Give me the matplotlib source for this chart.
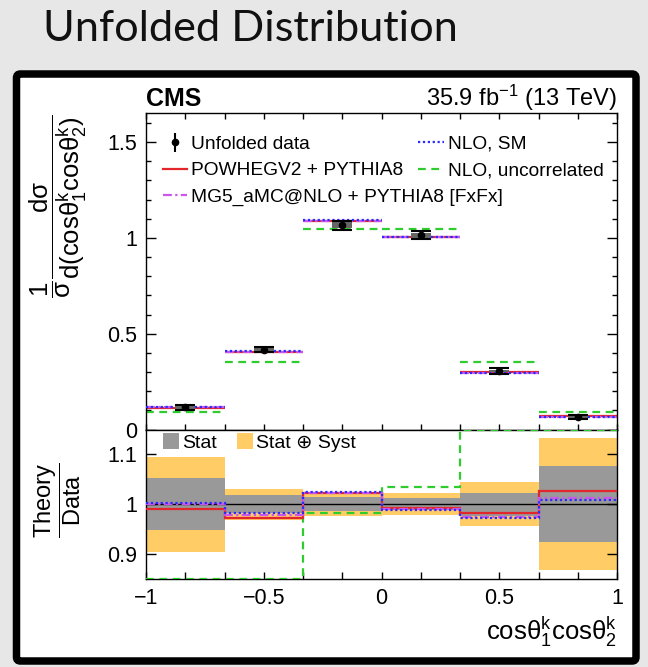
import numpy as np
import matplotlib
matplotlib.use('Agg')
import matplotlib.pyplot as plt
from matplotlib.patches import FancyBboxPatch, Patch
from matplotlib.lines import Line2D
from matplotlib.ticker import FixedLocator

plt.rcParams['font.family'] = ['Liberation Sans', 'DejaVu Sans']
plt.rcParams['mathtext.fontset'] = 'custom'
plt.rcParams['mathtext.rm'] = 'Liberation Sans'
plt.rcParams['mathtext.it'] = 'Liberation Sans:italic'
plt.rcParams['mathtext.bf'] = 'Liberation Sans:bold'
plt.rcParams['mathtext.default'] = 'regular'

# ---------------- data ----------------
bin_edges = [-1.0, -2/3, -1/3, 0.0, 1/3, 2/3, 1.0]
data_vals = [0.115, 0.416, 1.066, 1.014, 0.305, 0.066]
stat_rel = [0.052, 0.018, 0.014, 0.012, 0.023, 0.076]
tot_rel = [0.095, 0.031, 0.023, 0.022, 0.044, 0.132]

powheg_vals = [0.114, 0.405, 1.090, 1.006, 0.300, 0.068]
mg5_vals = [0.115, 0.407, 1.090, 1.004, 0.297, 0.067]
nlo_sm_vals = [0.115, 0.408, 1.092, 1.003, 0.297, 0.066]
nlo_unc_vals = [0.091, 0.352, 1.045, 1.045, 0.352, 0.091]

powheg_ratio = [0.990, 0.973, 1.023, 0.992, 0.982, 1.027]
mg5_ratio = [1.000, 0.978, 1.023, 0.990, 0.975, 1.013]
nlo_sm_ratio = [1.002, 0.982, 1.024, 0.989, 0.973, 1.008]
nlo_unc_ratio = [0.79, 0.846, 0.982, 1.034, 1.16, 1.38]

main_yticks = [0, 0.5, 1, 1.5]
main_yticklabels = ['0', '0.5', '1', '1.5']
ratio_yticks = [0.9, 1.0, 1.1]
ratio_yticklabels = ['0.9', '1', '1.1']
xticks = [-1, -0.5, 0, 0.5, 1]
xticklabels = ['\u22121', '\u22120.5', '0', '0.5', '1']

# ---------------- derived ----------------
edges = np.array(bin_edges)
centers = 0.5 * (edges[:-1] + edges[1:])
data_arr = np.array(data_vals)
stat_abs = data_arr * np.array(stat_rel)
tot_abs = data_arr * np.array(tot_rel)

W, H = 648, 667
fig = plt.figure(figsize=(W / 100, H / 100), dpi=100)
fig.patch.set_facecolor('#e7e7e7')


def fx(px):
    return px / W


def fy(py):
    return 1 - py / H


# white framed box
box = FancyBboxPatch((fx(16.5), fy(661)), fx(636) - fx(16.5), fy(74) - fy(661),
                     boxstyle='round,pad=0,rounding_size=0.006',
                     transform=fig.transFigure, facecolor='white',
                     edgecolor='black', linewidth=5.4, zorder=-5)
fig.patches.append(box)

# title
title = fig.text(fx(43), fy(40.7), 'Unfolded Distribution', family='Lato',
                 fontsize=28, ha='left', va='baseline', color='#111111')
fig.canvas.draw()
wt = title.get_window_extent().width
title.set_fontsize(28 * 415 / wt)

ax1 = fig.add_axes([fx(146), fy(429.5), fx(617) - fx(146), fy(113.3) - fy(429.5)])
ax2 = fig.add_axes([fx(146), fy(579), fx(617) - fx(146), fy(429.5) - fy(579)])

red = '#e3262b'
blue = '#2b2bff'
green = '#2ecc2e'
magenta = '#cc55ee'

lw = 1.6
dash_green = (0, (3.5, 2.5))
dot_blue = (0, (1, 1.2))
dashdot_mag = (0, (4, 1.5, 1, 1.5))

# main panel histograms (horizontal segments)
ax1.hlines(nlo_unc_vals, edges[:-1], edges[1:], colors=green, linestyles=[dash_green], lw=lw, zorder=2)
ax1.hlines(powheg_vals, edges[:-1], edges[1:], colors=red, linestyles='-', lw=lw, zorder=2)
ax1.hlines(mg5_vals, edges[:-1], edges[1:], colors=magenta, linestyles=[dashdot_mag], lw=lw, zorder=2)
ax1.hlines(nlo_sm_vals, edges[:-1], edges[1:], colors=blue, linestyles=[dot_blue], lw=lw, zorder=3)

# data
ax1.bar(centers, 2 * stat_abs, bottom=data_arr - stat_abs, width=0.085,
        color='#666666', lw=0, zorder=4)
ax1.errorbar(centers, data_arr, yerr=tot_abs, fmt='o', color='black', ms=4.5,
             capsize=7, capthick=1.5, elinewidth=1.5, zorder=5)

ax1.set_xlim(-1, 1)
ax1.set_ylim(0, 1.65)
ax1.xaxis.set_major_locator(FixedLocator(xticks))
ax1.xaxis.set_minor_locator(FixedLocator([k / 6 for k in range(-6, 7) if k % 3 != 0]))
ax1.set_yticks(main_yticks, labels=main_yticklabels)
ax1.yaxis.set_minor_locator(FixedLocator([k / 10 for k in range(0, 17) if k % 5 != 0]))
ax1.tick_params(which='both', direction='in', top=True, right=True,
                labelbottom=False, width=1.0)
ax1.tick_params(axis='x', which='both', length=4.5)
ax1.tick_params(axis='y', which='major', length=7.5, labelsize=15.5, pad=6.5)
ax1.tick_params(axis='y', which='minor', length=3.8)
for s in ax1.spines.values():
    s.set_linewidth(1.0)

# legends
data_h = ax1.errorbar([], [], yerr=[], fmt='o', color='black', ms=4.5, elinewidth=1.5)
h_pow = Line2D([], [], color=red, lw=lw)
h_mg5 = Line2D([], [], color=magenta, lw=lw, linestyle=dashdot_mag)
h_sm = Line2D([], [], color=blue, lw=lw, linestyle=dot_blue)
h_unc = Line2D([], [], color=green, lw=lw, linestyle=dash_green)

legA = ax1.legend([data_h, h_pow, h_mg5],
                  ['Unfolded data', 'POWHEGV2 + PYTHIA8', 'MG5_aMC@NLO + PYTHIA8 [FxFx]'],
                  loc='upper left', bbox_to_anchor=(0.036, 0.93), frameon=False,
                  fontsize=13.8, handlelength=1.25, handletextpad=0.2,
                  labelspacing=0.48, borderpad=0, borderaxespad=0)
ax1.add_artist(legA)
ax1.legend([h_sm, h_unc], ['NLO, SM', 'NLO, uncorrelated'],
           loc='upper left', bbox_to_anchor=(0.578, 0.93), frameon=False,
           fontsize=13.8, handlelength=1.35, handletextpad=0.2,
           labelspacing=0.48, borderpad=0, borderaxespad=0)

# CMS labels
ax1.text(0.0, 1.023, 'CMS', transform=ax1.transAxes, fontsize=18, weight='bold',
         ha='left', va='baseline')
ax1.text(1.0, 1.023, r'35.9 fb$^{-1}$ (13 TeV)', transform=ax1.transAxes,
         fontsize=17, ha='right', va='baseline')

# ratio panel
ax2.bar(centers, 2 * np.array(tot_rel), bottom=1 - np.array(tot_rel), width=1 / 3,
        color='#ffcc66', lw=0, zorder=1)
ax2.bar(centers, 2 * np.array(stat_rel), bottom=1 - np.array(stat_rel), width=1 / 3,
        color='#999999', lw=0, zorder=1)
ax2.axhline(1.0, color='black', lw=1.0, zorder=2)
ax2.stairs(np.clip(nlo_unc_ratio, 0.85, 1.15), edges, baseline=None, color=green,
           lw=lw, linestyle=dash_green, zorder=3)
ax2.stairs(powheg_ratio, edges, baseline=None, color=red, lw=lw, zorder=3)
ax2.stairs(mg5_ratio, edges, baseline=None, color=magenta, lw=lw, linestyle=dashdot_mag, zorder=3)
ax2.stairs(nlo_sm_ratio, edges, baseline=None, color=blue, lw=lw, linestyle=dot_blue, zorder=4)

ax2.set_xlim(-1, 1)
ax2.set_ylim(0.85, 1.15)
ax2.set_xticks(xticks, labels=xticklabels)
ax2.xaxis.set_minor_locator(FixedLocator([k / 6 for k in range(-6, 7) if k % 3 != 0]))
ax2.set_yticks(ratio_yticks, labels=ratio_yticklabels)
ax2.tick_params(which='both', direction='in', top=False, right=True, width=1.0)
ax2.tick_params(axis='x', which='both', length=5, labelsize=15.5, pad=6.5)
ax2.tick_params(axis='y', which='major', length=7.5, labelsize=15.5, pad=6.5)
for s in ax2.spines.values():
    s.set_linewidth(1.0)

ax2.legend([Patch(facecolor='#999999', lw=0), Patch(facecolor='#ffcc66', lw=0)],
           ['Stat', 'Stat \u2295 Syst'], ncol=2, loc='upper left',
           bbox_to_anchor=(0.036, 0.975), frameon=False, fontsize=14,
           handlelength=0.85, handleheight=0.85, handletextpad=0.15,
           columnspacing=1.0, borderpad=0, borderaxespad=0)

# axis titles
fig.text(fx(617), fy(640), r'$cos\theta_{1}^{k}cos\theta_{2}^{k}$', fontsize=18.5,
         ha='right', va='baseline')
fig.text(fx(58), fy(206),
         r'$\dfrac{1}{\sigma}\dfrac{d\sigma}{d(cos\theta_{1}^{k}cos\theta_{2}^{k})}$',
         fontsize=18.5, rotation=90, ha='center', va='center')
fig.text(fx(57.5), fy(500), r'$\dfrac{Theory}{Data}$', fontsize=17, rotation=90,
         ha='center', va='center')

fig.savefig('out.png', dpi=100, facecolor=fig.get_facecolor())
